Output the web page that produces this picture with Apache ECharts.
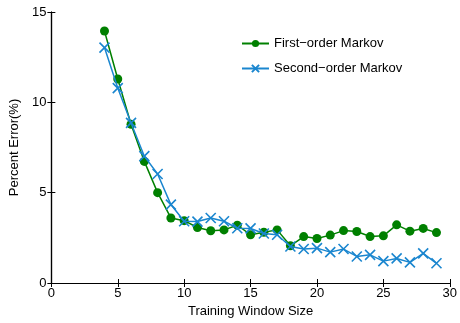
<!DOCTYPE html>
<html><head><meta charset="utf-8">
<script src="https://cdn.jsdelivr.net/npm/echarts@6/dist/echarts.min.js"></script>
<style>html,body{margin:0;padding:0;background:#fff}#c{width:460px;height:323px}</style>
</head><body><div id="c"></div>
<script>
const windowSizes = [4,5,6,7,8,9,10,11,12,13,14,15,16,17,18,19,20,21,22,23,24,25,26,27,28,29];
const firstOrder = [13.95,11.29,8.79,6.73,5.0,3.6,3.45,3.07,2.89,2.94,3.2,2.67,2.81,2.94,2.06,2.57,2.46,2.65,2.9,2.85,2.57,2.61,3.22,2.87,3.02,2.79];
const secondOrder = [13.03,10.79,8.86,7.02,6.03,4.34,3.42,3.4,3.6,3.42,3.03,3.02,2.74,2.67,2.02,1.88,1.93,1.71,1.88,1.47,1.56,1.21,1.36,1.14,1.64,1.09];
const seriesNames = ['First\u2212order Markov','Second\u2212order Markov'];
const green = '#008000', blue = '#1a86cf';
const font = 'Liberation Sans, Arial, Helvetica, sans-serif';
const chart = echarts.init(document.getElementById('c'), null, {renderer:'canvas'});
const axLine = {show:true, lineStyle:{color:'#000', width:1.2}};
const tick = {show:true, inside:true, length:4, lineStyle:{color:'#000'}};
chart.setOption({
  animation:false,
  grid:{left:51, right:9, top:12, bottom:39},
  legend:{
    data:seriesNames, orient:'vertical', left:236, top:32, itemGap:12,
    itemWidth:27, itemHeight:9,
    textStyle:{fontFamily:font, fontSize:13, color:'#000'}
  },
  xAxis:[{
    type:'value', min:0, max:30, interval:5,
    name:'Training Window Size', nameLocation:'middle', nameGap:22,
    nameTextStyle:{fontFamily:font, fontSize:13, color:'#000'},
    axisLine:axLine, axisTick:tick, splitLine:{show:false},
    axisLabel:{fontFamily:font, fontSize:13, color:'#000', margin:4}
  },{
    type:'value', min:0, max:30, interval:5, position:'top',
    axisLine:axLine, axisTick:tick, splitLine:{show:false}, axisLabel:{show:false}
  }],
  yAxis:[{
    type:'value', min:0, max:15, interval:5,
    name:'Percent Error(%)', nameLocation:'middle', nameGap:25,
    nameTextStyle:{fontFamily:font, fontSize:13, color:'#000'},
    axisLine:axLine, axisTick:tick, splitLine:{show:false},
    axisLabel:{fontFamily:font, fontSize:13, color:'#000', margin:5}
  },{
    type:'value', min:0, max:15, interval:5, position:'right',
    axisLine:axLine, axisTick:tick, splitLine:{show:false}, axisLabel:{show:false}
  }],
  series:[{
    name:seriesNames[0], type:'line',
    data:windowSizes.map((x,i)=>[x, firstOrder[i]]),
    symbol:'circle', symbolSize:9,
    itemStyle:{color:green},
    lineStyle:{color:green, width:1.5}, z:2
  },{
    name:seriesNames[1], type:'line',
    data:windowSizes.map((x,i)=>[x, secondOrder[i]]),
    symbol:'path://M0,0L10,10M10,0L0,10', symbolSize:10,
    itemStyle:{color:'none', borderColor:blue, borderWidth:1.6},
    lineStyle:{color:blue, width:1.5}, z:3
  }]
});
</script></body></html>
